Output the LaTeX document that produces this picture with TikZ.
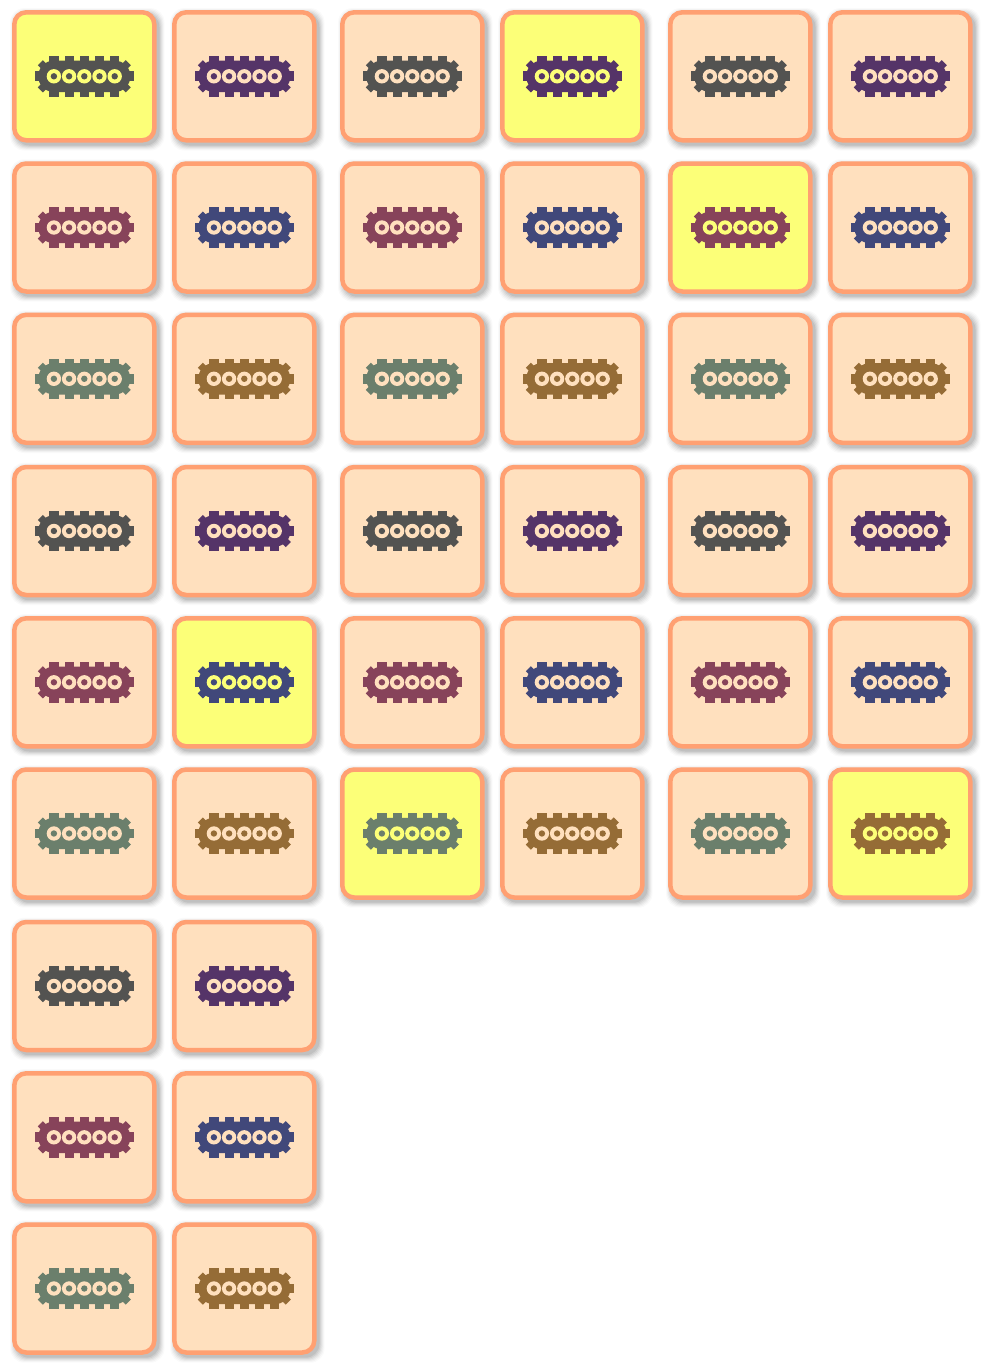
\documentclass[tikz,border=0pt]{standalone}
\usetikzlibrary{shapes.geometric}
\definecolor{peach}{HTML}{FFE0BE}
\definecolor{hilite}{HTML}{FCFF78}
\definecolor{rim}{HTML}{FFA072}
\definecolor{tgrey}{HTML}{535351}
\definecolor{tpurple}{HTML}{553468}
\definecolor{tred}{HTML}{87435A}
\definecolor{tblue}{HTML}{41487A}
\definecolor{tgreen}{HTML}{6B7F6C}
\definecolor{tbrown}{HTML}{956C36}
\tikzset{
  x=1pt,y=-1pt,
  cardbox/.style={rectangle,draw=rim,line width=4.5pt,rounded corners=12pt,minimum width=140pt,minimum height=128pt,inner sep=0pt,outer sep=0pt},
  haze/.style={fill=black,rounded corners=14pt,draw=none},
}
% #1 name, #2 x, #3 y, #4 track colour, #5 card colour
\newcommand{\trackcard}[5]{%
  \begin{scope}[shift={(#2,#3)}]
    \foreach \e/\o in {5/0.02,4/0.03,3/0.04,2/0.05,1/0.06,0/0.07}{
      \fill[haze,opacity=\o] (-72.2+3-\e,-66.2+3-\e) rectangle (72.2+3+\e,66.2+3+\e);
    }
  \end{scope}
  \node[cardbox,fill=#5] (#1) at (#2,#3) {};
  \begin{scope}[shift={(#2,#3)}]
    \fill[#4] (-30.4,-15.7) -- (30.4,-15.7) arc[start angle=-90,end angle=90,radius=15.7] -- (-30.4,15.7) arc[start angle=90,end angle=270,radius=15.7] -- cycle;
    \foreach \c in {-30.4,-15.2,0,15.2,30.4}{
      \fill[#4] (\c-4.6,-20.3) rectangle (\c+4.6,20.3);
    }
    \foreach \c/\s in {-30.4/-1,30.4/1}{
      \fill[#4] (\c+\s*10,-4.9) rectangle (\c+\s*19.2,4.9);
      \foreach \a in {-45,45}{
        \begin{scope}[shift={(\c,0)},rotate=\a]
          \fill[#4] (\s*10,-3.6) rectangle (\s*19.2,3.6);
        \end{scope}
      }
    }
    \foreach \c in {-30.4,-15.2,0,15.2,30.4}{
      \fill[#5] (\c,0) circle[radius=7.2];
      \fill[#4] (\c,0) circle[radius=3.2];
    }
  \end{scope}
}
\begin{document}
\begin{tikzpicture}
\useasboundingbox (0,0) rectangle (984,1365);
\fill[white] (0,0) rectangle (984,1365);
\foreach \row/\yy/\ca/\cb in {1/76.3/tgrey/tpurple,2/227.5/tred/tblue,3/378.8/tgreen/tbrown,4/531/tgrey/tpurple,5/682.3/tred/tblue,6/833.5/tgreen/tbrown}{
  \foreach \col/\xx/\odd in {1/84.3/1,2/244.3/0,3/412.3/1,4/572.3/0,5/740.3/1,6/900.3/0}{
    \pgfmathtruncatemacro{\key}{\row*10+\col}
    \def\bg{peach}
    \ifnum\key=11 \def\bg{hilite}\fi
    \ifnum\key=14 \def\bg{hilite}\fi
    \ifnum\key=25 \def\bg{hilite}\fi
    \ifnum\key=52 \def\bg{hilite}\fi
    \ifnum\key=63 \def\bg{hilite}\fi
    \ifnum\key=66 \def\bg{hilite}\fi
    \ifnum\odd=1 \def\tc{\ca}\else\def\tc{\cb}\fi
    \trackcard{card\key}{\xx}{\yy}{\tc}{\bg}
  }
}
\foreach \row/\yy/\ca/\cb in {7/986/tgrey/tpurple,8/1137.3/tred/tblue,9/1288.5/tgreen/tbrown}{
  \trackcard{card\row1}{84.3}{\yy}{\ca}{peach}
  \trackcard{card\row2}{244.3}{\yy}{\cb}{peach}
}
\end{tikzpicture}
\end{document}
